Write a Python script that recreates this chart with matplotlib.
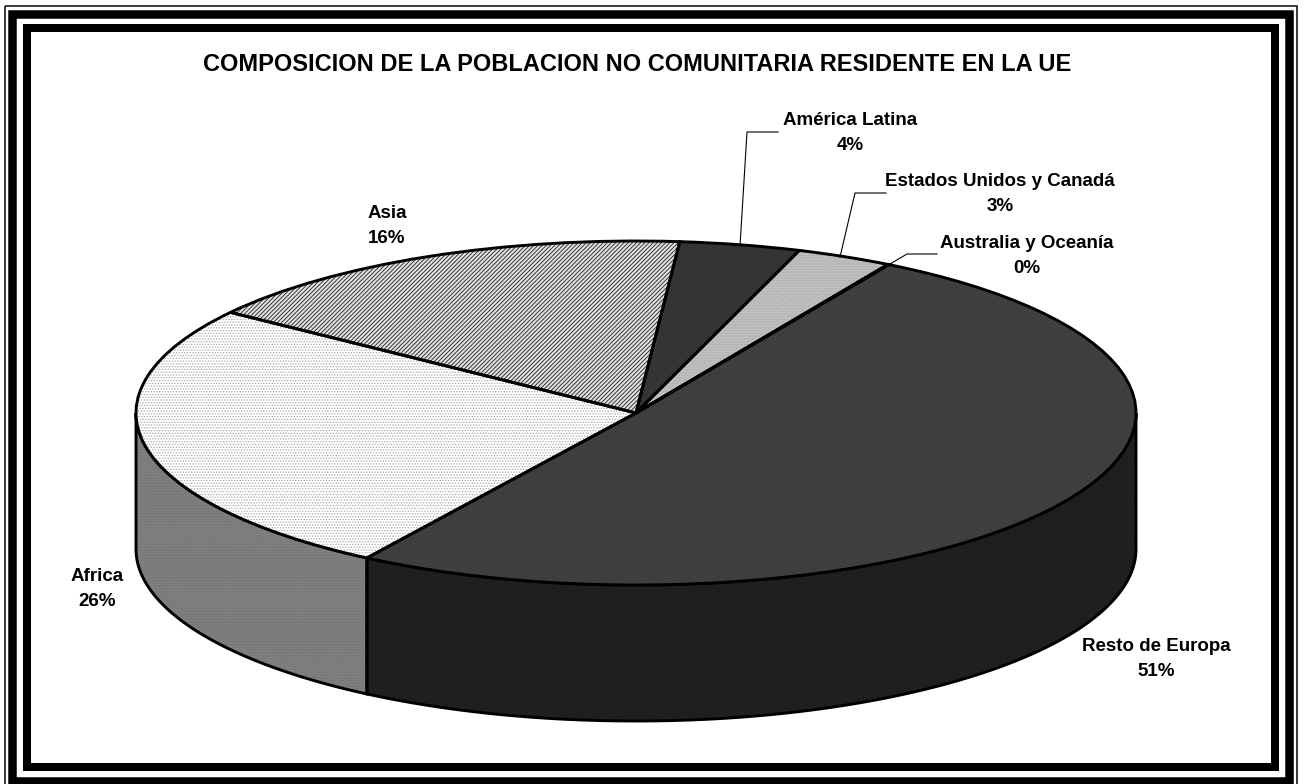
import numpy as np
import matplotlib
matplotlib.use("Agg")
import matplotlib.pyplot as plt
from matplotlib.patches import Rectangle

W, H = 1305, 784

title = "COMPOSICION DE LA POBLACION NO COMUNITARIA RESIDENTE EN LA UE"
regions = ["Resto de Europa", "Africa", "Asia", "América Latina",
           "Estados Unidos y Canadá", "Australia y Oceanía"]
shares = [50.6, 25.9, 16.45, 3.9, 3.11, 0.04]

top_colors = ["#444444", "#ffffff", "#e0e0e0", "#343434", "#c0c0c0", "#c0c0c0"]
top_hatch_colors = ["#363636", "#a8a8a8", "#202020", "#343434", "#a8a8a8", "#a8a8a8"]
top_hatches = ["/" * 10, "......", "/" * 8, None, "......", "......"]
side_colors = ["#222222", "#808080"]
side_hatch_colors = ["#1a1a1a", "#707070"]
side_hatches = ["/" * 10, "......"]

# ellipse of the pie top in pixels
cx, cy, rx, ry = 636, 413, 500, 172
depth = 136 / ry
start_angle = 59.6

plt.rcParams["font.family"] = ["Liberation Sans", "DejaVu Sans"]
plt.rcParams["font.weight"] = "bold"
plt.rcParams["hatch.linewidth"] = 0.6

fig = plt.figure(figsize=(W / 100, H / 100), dpi=100, facecolor="white")

# pixel overlay for the frame, labels and leader lines
frame = fig.add_axes([0, 0, 1, 1], zorder=3)
frame.set_xlim(0, W)
frame.set_ylim(H, 0)
frame.axis("off")
frame.patch.set_alpha(0)

for x0, y0, x1, y1, lw in [(4.5, 5.5, 1296.5, 790, 1.5),
                           (12, 13.5, 1289, 781, 8.5),
                           (26.5, 28, 1274.5, 767, 8)]:
    frame.add_patch(Rectangle((x0, y0), x1 - x0, y1 - y0, fill=False,
                              edgecolor="black", linewidth=lw * 0.72, joinstyle="miter"))

# the pie, unit circle mapped on to the ellipse
ax = fig.add_axes([0, 0, 1, 1], zorder=1)
wedges, _ = ax.pie(shares, colors=top_colors, hatch=top_hatches, startangle=start_angle,
                   counterclock=False, radius=1, wedgeprops=dict(linewidth=0), normalize=True)
for w, c in zip(wedges, top_hatch_colors):
    w.set_edgecolor(c)
ax.pie(shares, colors=["none"] * len(shares), startangle=start_angle, counterclock=False,
       radius=1, wedgeprops=dict(linewidth=2.1, edgecolor="black"), normalize=True)
ax.set_aspect("auto")
ax.set_xlim((0 - cx) / rx, (W - cx) / rx)
ax.set_ylim((cy - H) / ry, cy / ry)
ax.axis("off")

# side wall for the slices that face the viewer
edges = start_angle - np.cumsum([0] + shares) * 3.6
for i in range(len(side_colors)):
    t = np.radians(np.linspace(edges[i], edges[i + 1], 300))
    t = t[np.sin(t) <= 0]
    x, y = np.cos(t), np.sin(t)
    xs = np.r_[x, x[::-1]]
    ys = np.r_[y, y[::-1] - depth]
    ax.fill(xs, ys, facecolor=side_colors[i], edgecolor=side_hatch_colors[i],
            hatch=side_hatches[i], linewidth=0, zorder=0.5)
    ax.fill(xs, ys, facecolor="none", edgecolor="black", linewidth=2.1, zorder=0.6)

frame.text(637, 64.5, title, ha="center", va="center", fontsize=17)

label_pos = [(1156, 659), (97, 589), (387, 226), (850, 133), (1000, 194), (1027, 256)]
for name, share, (lx, ly) in zip(regions, shares, label_pos):
    frame.text(lx, ly, f"{name}\n{round(share)}%", ha="center", va="center",
               fontsize=13.5, linespacing=1.63)

leaders = [[(778, 132), (747, 132), (740, 246)],
           [(886, 193), (855, 193), (840, 257)],
           [(937, 254), (907, 254), (885, 267)]]
for pts in leaders:
    xs, ys = zip(*pts)
    frame.plot(xs, ys, color="black", linewidth=0.8)

fig.savefig("out.png", dpi=100)
